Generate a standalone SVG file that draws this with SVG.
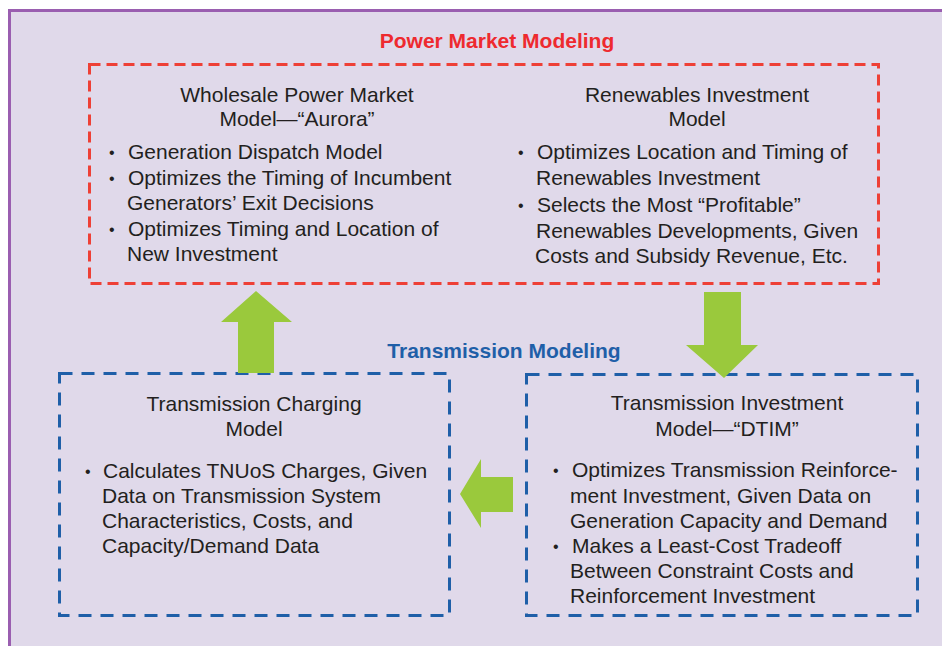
<svg xmlns="http://www.w3.org/2000/svg" width="942" height="646" viewBox="0 0 942 646">
<style>
.t{font-family:"Liberation Sans",Arial,sans-serif;font-size:21px;fill:#231f20}
.b{font-family:"Liberation Sans",Arial,sans-serif;font-size:16px;fill:#231f20}
.c{text-anchor:middle}
.h{font-family:"Liberation Sans",Arial,sans-serif;font-size:21px;font-weight:bold;text-anchor:middle}
.red{fill:none;stroke:#ee4036;stroke-width:3;stroke-dasharray:11 6}
.blue{fill:none;stroke:#1f5fa8;stroke-width:3;stroke-dasharray:13 9}
.arrow{fill:#9ac93c}
</style>
<rect width="942" height="646" fill="#ffffff"/>
<rect x="9.5" y="10.5" width="940" height="650" fill="#e0d9ea" stroke="#9a5eb0" stroke-width="3"/>
<text class="h" x="497" y="48" fill="#ee2a2f">Power Market Modeling</text>
<text class="h" x="504" y="358" fill="#1f5fa8">Transmission Modeling</text>
<rect class="red" x="89.5" y="64.5" width="789" height="219"/>
<g id="aurora">
<text class="t c" x="297" y="102">Wholesale Power Market</text>
<text class="t c" x="297" y="126">Model—“Aurora”</text>
<text class="b" x="109" y="158">•</text><text class="t" x="128" y="159">Generation Dispatch Model</text>
<text class="b" x="109" y="184">•</text><text class="t" x="128" y="185">Optimizes the Timing of Incumbent</text>
<text class="t" x="127" y="210">Generators’ Exit Decisions</text>
<text class="b" x="109" y="235">•</text><text class="t" x="128" y="236">Optimizes Timing and Location of</text>
<text class="t" x="127" y="261">New Investment</text>
</g>
<g id="renewables">
<text class="t c" x="697" y="102">Renewables Investment</text>
<text class="t c" x="697" y="126">Model</text>
<text class="b" x="518" y="158">•</text><text class="t" x="537" y="159">Optimizes Location and Timing of</text>
<text class="t" x="536" y="185">Renewables Investment</text>
<text class="b" x="518" y="211">•</text><text class="t" x="537" y="212">Selects the Most “Profitable”</text>
<text class="t" x="536" y="238">Renewables Developments, Given</text>
<text class="t" x="535" y="263">Costs and Subsidy Revenue, Etc.</text>
</g>
<g id="charging">
<rect class="blue" x="59.5" y="373.5" width="390" height="242"/>
<text class="t c" x="254" y="411">Transmission Charging</text>
<text class="t c" x="254" y="436">Model</text>
<text class="b" x="85" y="477">•</text><text class="t" x="103" y="478">Calculates TNUoS Charges, Given</text>
<text class="t" x="102" y="503">Data on Transmission System</text>
<text class="t" x="102" y="528">Characteristics, Costs, and</text>
<text class="t" x="102" y="553">Capacity/Demand Data</text>
</g>
<g id="dtim">
<rect class="blue" x="526.5" y="374.5" width="391" height="241"/>
<text class="t c" x="727" y="410">Transmission Investment</text>
<text class="t c" x="727" y="436">Model—“DTIM”</text>
<text class="b" x="553" y="476">•</text><text class="t" x="572" y="477">Optimizes Transmission Reinforce-</text>
<text class="t" x="570" y="503">ment Investment, Given Data on</text>
<text class="t" x="570" y="528">Generation Capacity and Demand</text>
<text class="b" x="553" y="552">•</text><text class="t" x="572" y="553">Makes a Least-Cost Tradeoff</text>
<text class="t" x="570" y="578">Between Constraint Costs and</text>
<text class="t" x="570" y="603">Reinforcement Investment</text>
</g>
<g id="connectors">
<polygon class="arrow" points="256,291 292,322 274,322 274,373 238,373 238,322 221,322"/>
<polygon class="arrow" points="704,292 741,292 741,345 758,345 724,378 686,345 704,345"/>
<polygon class="arrow" points="460,494 481,459 481,477 513,477 513,512 481,512 481,528"/>
</g>
</svg>
